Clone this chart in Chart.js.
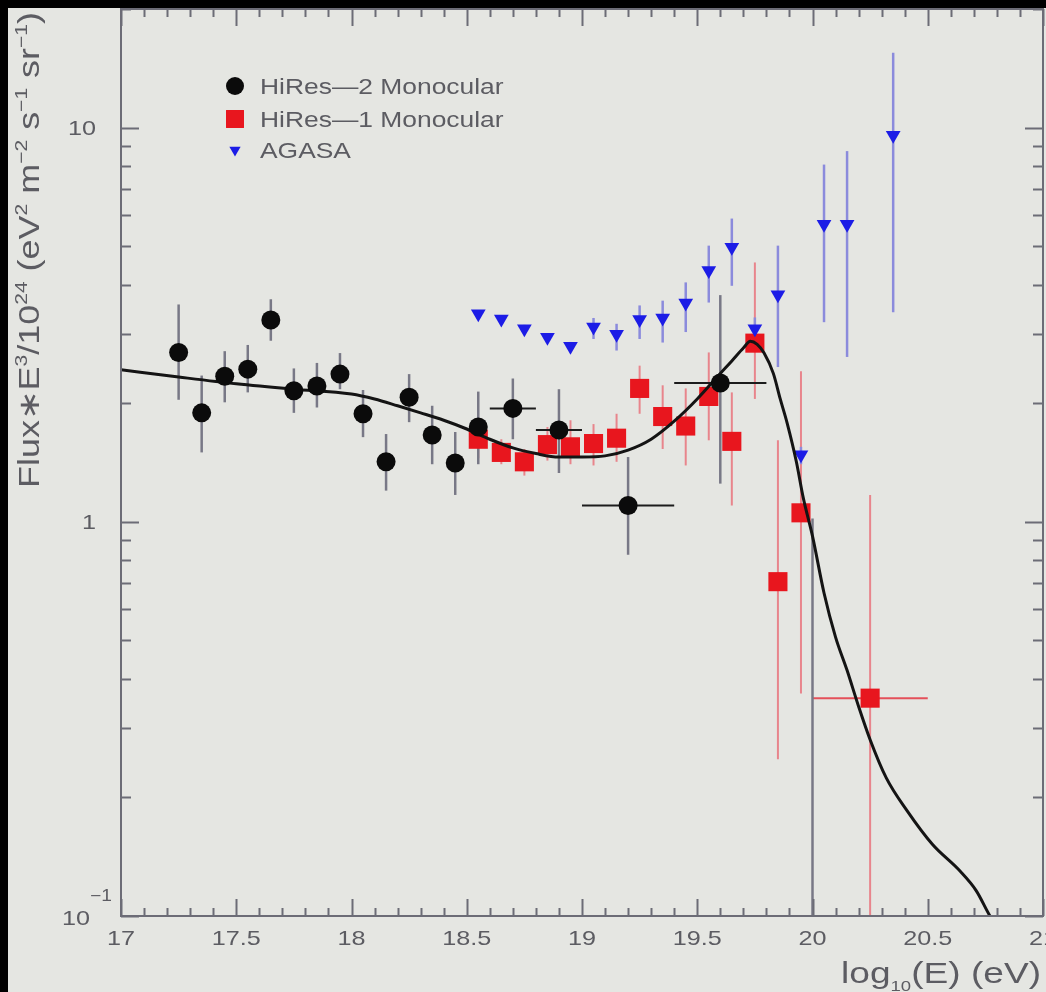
<!DOCTYPE html>
<html>
<head>
<meta charset="utf-8">
<script src="https://cdn.jsdelivr.net/npm/chart.js@4.4.1/dist/chart.umd.min.js"></script>
<style>
  html, body { margin: 0; padding: 0; width: 1046px; height: 992px; overflow: hidden; background: #000; }
  #wrap { position: absolute; left: 8px; top: 8px; width: 1060px; height: 984px; background: #e5e6e2; }
</style>
</head>
<body>
<div id="wrap"><canvas id="flux" width="1060" height="984"></canvas></div>
<script>
// HiRes-2 monocular spectrum (last point sits below the axis, only its bar shows)
const hires2X   = [17.25, 17.35, 17.45, 17.55, 17.65, 17.75, 17.85, 17.95, 18.05, 18.15, 18.25, 18.35, 18.45, 18.55, 18.7, 18.9, 19.2, 19.6, 20.0];
const hires2Y   = [2.69, 1.89, 2.34, 2.44, 3.25, 2.15, 2.21, 2.37, 1.88, 1.42, 2.07, 1.66, 1.41, 1.74, 1.94, 1.71, 1.10, 2.25, 0.06];
const hires2Lo  = [2.04, 1.50, 2.01, 2.13, 2.88, 1.89, 1.95, 2.17, 1.64, 1.20, 1.79, 1.40, 1.17, 1.40, 1.62, 1.33, 0.825, 1.25, 0.01];
const hires2Hi  = [3.56, 2.35, 2.71, 2.81, 3.67, 2.45, 2.53, 2.68, 2.16, 1.67, 2.37, 1.97, 1.69, 2.14, 2.31, 2.17, 1.46, 3.76, 1.02];
const hires2XLo = [null, null, null, null, null, null, null, null, null, null, null, null, null, null, 18.6, 18.8, 19.0, 19.4, null];
const hires2XHi = [null, null, null, null, null, null, null, null, null, null, null, null, null, null, 18.8, 19.0, 19.4, 19.8, null];

// HiRes-1 monocular spectrum
const hires1X   = [18.55, 18.65, 18.75, 18.85, 18.95, 19.05, 19.15, 19.25, 19.35, 19.45, 19.55, 19.65, 19.75, 19.85, 19.95, 20.25];
const hires1Y   = [1.62, 1.50, 1.42, 1.57, 1.55, 1.58, 1.63, 2.18, 1.85, 1.75, 2.08, 1.60, 2.84, 0.705, 1.054, 0.357];
const hires1Lo  = [1.45, 1.40, 1.31, 1.43, 1.40, 1.39, 1.42, 1.88, 1.53, 1.39, 1.61, 1.10, 2.05, 0.25, 0.367, 0.05];
const hires1Hi  = [1.80, 1.62, 1.53, 1.74, 1.81, 1.77, 1.88, 2.49, 2.22, 2.18, 2.69, 2.13, 4.55, 1.61, 2.41, 1.17];
const hires1XLo = [null, null, null, null, null, null, null, null, null, null, null, null, null, null, null, 20.0];
const hires1XHi = [null, null, null, null, null, null, null, null, null, null, null, null, null, null, null, 20.5];

// AGASA
const agasaX  = [18.55, 18.65, 18.75, 18.85, 18.95, 19.05, 19.15, 19.25, 19.35, 19.45, 19.55, 19.65, 19.75, 19.85, 19.95, 20.05, 20.15, 20.35];
const agasaY  = [3.37, 3.27, 3.09, 2.94, 2.79, 3.12, 2.99, 3.26, 3.29, 3.59, 4.34, 4.97, 3.09, 3.77, 1.48, 5.69, 5.69, 9.56];
const agasaLo = [3.30, 3.20, 3.02, 2.87, 2.72, 2.91, 2.72, 2.91, 2.85, 3.03, 3.60, 3.97, 2.90, 2.47, 1.40, 3.21, 2.62, 3.40];
const agasaHi = [3.44, 3.34, 3.16, 3.01, 2.86, 3.29, 3.18, 3.54, 3.64, 4.05, 5.02, 5.88, 3.30, 5.02, 1.55, 8.06, 8.72, 15.5];

// model curve
const fitX = [17.0, 17.25, 17.5, 17.75, 18.0, 18.1, 18.2, 18.3, 18.4, 18.5, 18.6, 18.7, 18.8, 18.9, 19.0, 19.1, 19.2, 19.3, 19.4, 19.5,
              19.6, 19.65, 19.7, 19.73, 19.76, 19.79, 19.83, 19.86, 19.89, 19.93, 19.96, 20.0, 20.05, 20.1, 20.15, 20.2, 20.25,
              20.32, 20.41, 20.52, 20.64, 20.71, 20.77, 20.8];
const fitY = [2.43, 2.33, 2.24, 2.17, 2.11, 2.05, 1.97, 1.89, 1.81, 1.72, 1.62, 1.54, 1.49, 1.46, 1.46, 1.47, 1.52, 1.62, 1.80, 2.05,
              2.38, 2.56, 2.76, 2.87, 2.82, 2.68, 2.38, 2.05, 1.78, 1.42, 1.15, 0.92, 0.66, 0.51, 0.42, 0.34, 0.28,
              0.224, 0.185, 0.152, 0.130, 0.116, 0.100, 0.094];

const xTickValues = [17, 17.5, 18, 18.5, 19, 19.5, 20, 20.5, 21];
const xTickLabels = ['17', '17.5', '18', '18.5', '19', '19.5', '20', '20.5', '21'];
const yTickValues = [0.1, 1, 10];

const BG = '#e5e6e2';
const FRAME = '#6c6c76';
const TEXT = '#5c5c62';
const STRETCH = 1.2;
const FONT = '"Liberation Sans", Arial, sans-serif';

const pts = (xs, ys) => xs.map((x, i) => ({x: x, y: ys[i]}));

// text run made of [string, kind] pieces, kind '' | 'sup' | 'sub'
function drawRich(ctx, pieces, x, y, o) {
  const size = o.size;
  const small = Math.round(size * (o.small || 0.62));
  let w = 0;
  pieces.forEach(([t, k]) => {
    ctx.font = (k ? small : size) + 'px ' + FONT;
    w += ctx.measureText(t).width;
  });
  // o.length squeezes/stretches the run to a fixed extent
  const stretch = o.length ? o.length / w : (o.stretch || STRETCH);
  ctx.save();
  ctx.translate(x, y);
  if (o.rotate) ctx.rotate(o.rotate);
  ctx.scale(stretch, 1);
  ctx.fillStyle = o.color || TEXT;
  ctx.textAlign = 'left';
  ctx.textBaseline = 'alphabetic';
  let cx = o.align === 'right' ? -w : (o.align === 'center' ? -w / 2 : 0);
  pieces.forEach(([t, k]) => {
    ctx.font = (k ? small : size) + 'px ' + FONT;
    const dy = k === 'sup' ? -size * (o.supRise || 0.42) : (k === 'sub' ? size * (o.subDrop || 0.25) : 0);
    ctx.fillText(t, cx, dy);
    cx += ctx.measureText(t).width;
  });
  ctx.restore();
}

const errorSets = [
  {x: hires1X, y: hires1Y, lo: hires1Lo, hi: hires1Hi, xlo: hires1XLo, xhi: hires1XHi, color: '#e8858c', hColor: '#e4505a', width: 2},
  {x: agasaX, y: agasaY, lo: agasaLo, hi: agasaHi, color: '#8b8bdc', width: 2.5},
  {x: hires2X, y: hires2Y, lo: hires2Lo, hi: hires2Hi, xlo: hires2XLo, xhi: hires2XHi, color: '#787886', hColor: '#1c1c1c', width: 2.5}
];

const backdrop = {
  id: 'backdrop',
  beforeDraw(chart) {
    const ctx = chart.ctx;
    ctx.save();
    ctx.fillStyle = BG;
    ctx.fillRect(0, 0, chart.width, chart.height);
    ctx.restore();
  }
};

const errorBars = {
  id: 'errorBars',
  beforeDatasetsDraw(chart) {
    const {ctx, chartArea: a, scales: {x, y}} = chart;
    ctx.save();
    ctx.beginPath();
    ctx.rect(a.left, a.top, a.right - a.left, a.bottom - a.top);
    ctx.clip();
    errorSets.forEach(s => {
      s.x.forEach((xv, i) => {
        const px = x.getPixelForValue(xv);
        ctx.strokeStyle = s.color;
        ctx.lineWidth = s.width;
        ctx.beginPath();
        ctx.moveTo(px, y.getPixelForValue(s.lo[i]));
        ctx.lineTo(px, y.getPixelForValue(s.hi[i]));
        ctx.stroke();
        if (s.xlo && s.xlo[i] != null) {
          const py = y.getPixelForValue(s.y[i]);
          ctx.strokeStyle = s.hColor;
          ctx.lineWidth = 2;
          ctx.beginPath();
          ctx.moveTo(x.getPixelForValue(s.xlo[i]), py);
          ctx.lineTo(x.getPixelForValue(s.xhi[i]), py);
          ctx.stroke();
        }
      });
    });
    ctx.restore();
  }
};

// frame with inward ticks on all four sides, tick labels and axis titles
const frameAxes = {
  id: 'frameAxes',
  afterDatasetsDraw(chart) {
    const {ctx, chartArea: a, scales: {x, y}} = chart;
    ctx.save();
    ctx.strokeStyle = FRAME;
    ctx.lineWidth = 2;
    ctx.strokeRect(a.left, a.top, a.right - a.left, a.bottom - a.top);

    ctx.beginPath();
    for (let i = 0; i <= 40; i++) {
      const px = Math.round(x.getPixelForValue(17 + i / 10)) + 0.5;
      const len = i % 5 === 0 ? 17 : 8;
      ctx.moveTo(px, a.bottom); ctx.lineTo(px, a.bottom - len);
      ctx.moveTo(px, a.top); ctx.lineTo(px, a.top + len);
    }
    yTickValues.forEach(d => {
      for (let m = 1; m <= 9; m++) {
        const v = m * d;
        if (v > y.max) break;
        const py = Math.round(y.getPixelForValue(v)) + 0.5;
        const len = m === 1 ? 18 : 10;
        ctx.moveTo(a.left, py); ctx.lineTo(a.left + len, py);
        ctx.moveTo(a.right, py); ctx.lineTo(a.right - len, py);
      }
    });
    ctx.stroke();
    ctx.restore();

    xTickValues.forEach((v, i) => {
      drawRich(ctx, [[xTickLabels[i], '']], x.getPixelForValue(v), a.bottom + 29, {size: 21, align: 'center'});
    });
    yTickValues.forEach(v => {
      const py = y.getPixelForValue(v);
      if (v === 0.1) {
        drawRich(ctx, [['10', ''], ['\u22121', 'sup']], a.left - 59, py + 9, {size: 21, small: 0.76, supRise: 1.15});
      } else {
        drawRich(ctx, [[String(v), '']], a.left - 25, py + 7.5, {size: 21, align: 'right'});
      }
    });

    drawRich(ctx, [['log', ''], ['10', 'sub'], ['(E) (eV)', '']], a.right - 2, a.bottom + 67,
      {size: 30, align: 'right', small: 0.5, subDrop: 0.27, length: 200});
    drawRich(ctx, [['Flux\u2217E', ''], ['3', 'sup'], ['/10', ''], ['24', 'sup'], [' (eV', ''], ['2', 'sup'],
      [' m', ''], ['\u22122', 'sup'], [' s', ''], ['\u22121', 'sup'], [' sr', ''], ['\u22121', 'sup'], [')', '']],
      31, 480, {size: 29, small: 0.58, rotate: -Math.PI / 2, length: 476});
  }
};

const legendBox = {
  id: 'legendBox',
  afterDraw(chart) {
    const ctx = chart.ctx;
    const rows = [
      {label: 'HiRes\u20142 Monocular', style: 'circle', radius: 9, color: '#0b0b0b', y: 78},
      {label: 'HiRes\u20141 Monocular', style: 'rect', radius: 12.7, color: '#e8161e', y: 111},
      {label: 'AGASA', style: 'triangle', radius: 6.5, color: '#1c1ce6', y: 142}
    ];
    rows.forEach(r => {
      ctx.save();
      ctx.fillStyle = r.color;
      Chart.helpers.drawPoint(ctx, {pointStyle: r.style, radius: r.radius, rotation: r.style === 'triangle' ? 180 : 0, borderWidth: 0}, 227, r.y);
      ctx.restore();
      drawRich(ctx, [[r.label, '']], 252, r.y + 8, {size: 22});
    });
  }
};

new Chart(document.getElementById('flux'), {
  type: 'scatter',
  data: {
    datasets: [
      {label: 'HiRes-2 Monocular', data: pts(hires2X, hires2Y), pointStyle: 'circle', pointRadius: 9.5,
       pointBackgroundColor: '#0b0b0b', pointBorderWidth: 0, order: 0},
      {label: 'fit', type: 'line', data: pts(fitX, fitY), borderColor: '#141414', borderWidth: 3, pointRadius: 0,
       cubicInterpolationMode: 'monotone', fill: false, order: 1},
      {label: 'AGASA', data: pts(agasaX, agasaY), pointStyle: 'triangle', pointRotation: 180, pointRadius: 8.5,
       pointBackgroundColor: '#1c1ce6', pointBorderWidth: 0, order: 2},
      {label: 'HiRes-1 Monocular', data: pts(hires1X, hires1Y), pointStyle: 'rect', pointRadius: 13.5,
       pointBackgroundColor: '#e8161e', pointBorderWidth: 0, order: 3}
    ]
  },
  options: {
    responsive: false,
    animation: false,
    events: [],
    layout: {autoPadding: false, padding: {left: 113, top: 1, right: 25, bottom: 76}},
    plugins: {legend: {display: false}, tooltip: {enabled: false}},
    scales: {
      x: {type: 'linear', min: 17, max: 21, display: false},
      y: {type: 'logarithmic', min: 0.1, max: 20, display: false}
    }
  },
  plugins: [backdrop, errorBars, frameAxes, legendBox]
});
</script>
</body>
</html>
